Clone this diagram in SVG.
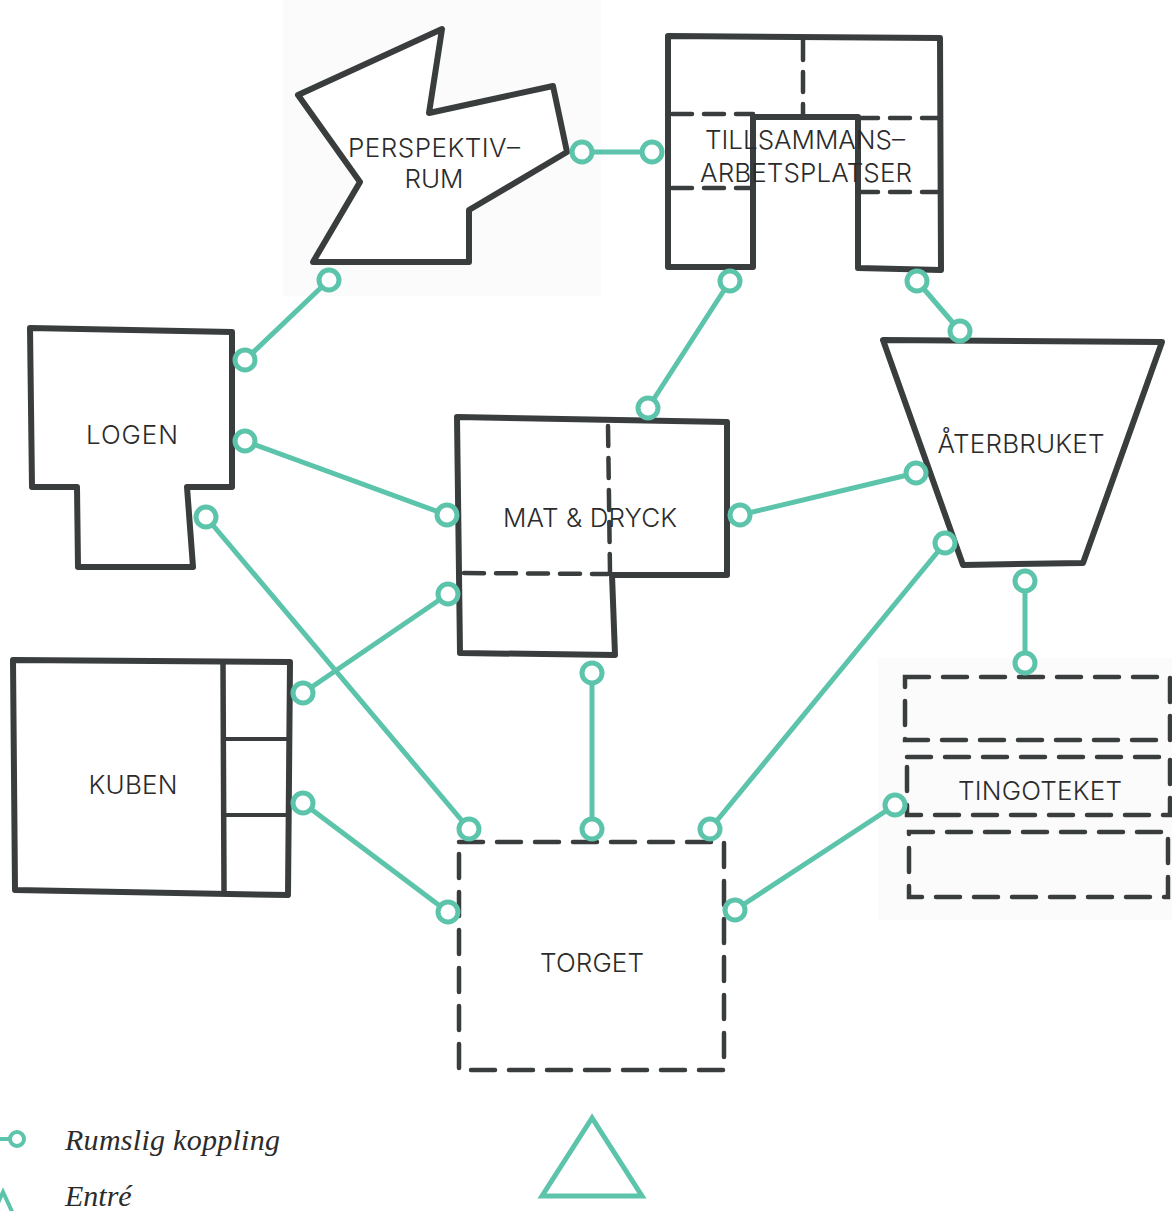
<svg xmlns="http://www.w3.org/2000/svg" width="1172" height="1211" viewBox="0 0 1172 1211">
<style>
.bg{fill:#fbfbfb;stroke:none}
.wall{fill:#ffffff;stroke:#3a3d3d;stroke-width:6;stroke-linejoin:round;stroke-linecap:round}
.wallo{fill:none;stroke:#3a3d3d;stroke-width:5.5;stroke-linecap:round}
.thin{fill:none;stroke:#3a3d3d;stroke-width:4;stroke-linecap:round}
.dash{fill:none;stroke:#3a3d3d;stroke-width:4.5;stroke-dasharray:20 12;stroke-linecap:round}
.dashbox{fill:none;stroke:#3a3d3d;stroke-width:4.5;stroke-dasharray:24 14;stroke-linecap:round}
.lbl{font-family:Inter,"Open Sans","DejaVu Sans",sans-serif;font-weight:300;font-size:26px;fill:#2b2b2b;text-anchor:middle}
.cl{stroke:#5cc4aa;stroke-width:5;fill:none;stroke-linecap:round}
.cc{stroke:#5cc4aa;stroke-width:5;fill:#ffffff}
.leg{font-family:"Liberation Serif",serif;font-style:italic;font-size:30px;fill:#2b2b2b}
</style>
<rect width="1172" height="1211" fill="#ffffff"/>
<rect class="bg" x="283" y="0" width="318" height="296"/>
<rect class="bg" x="878" y="658" width="294" height="262"/>

<g id="perspektivrum">
<polygon class="wall" points="298,95 442,29 429,113 553,86 567,152 469,210 469,262 313,262 360,182"/>
<text class="lbl" x="434" y="157" textLength="172" lengthAdjust="spacing">PERSPEKTIV–</text>
<text class="lbl" x="434" y="188">RUM</text>
</g>

<g id="tillsammans">
<path class="wall" d="M668,36 L940,38 L941,270 L858,268 L858,117 L753,117 L753,267 L668,267 Z"/>
<line class="dash" x1="803" y1="40" x2="803" y2="114"/>
<line class="dash" x1="672" y1="114" x2="753" y2="114"/>
<line class="dash" x1="858" y1="118" x2="938" y2="118"/>
<line class="dash" x1="672" y1="188" x2="753" y2="188"/>
<line class="dash" x1="858" y1="192" x2="938" y2="192"/>
<text class="lbl" x="805" y="149" textLength="200" lengthAdjust="spacing">TILLSAMMANS–</text>
<text class="lbl" x="806" y="182" textLength="212" lengthAdjust="spacing">ARBETSPLATSER</text>
</g>

<g id="logen">
<polygon class="wall" points="30,328 232,332 232,487 187,487 193,567 78,567 77,487 32,487"/>
<text class="lbl" x="132" y="444" textLength="92" lengthAdjust="spacing">LOGEN</text>
</g>

<g id="matdryck">
<polygon class="wall" points="457,417 727,422 727,575 612,575 615,655 460,653"/>
<line class="dash" x1="608" y1="426" x2="610" y2="572"/>
<line class="dash" x1="464" y1="573" x2="608" y2="574"/>
<text class="lbl" x="590" y="527" textLength="174" lengthAdjust="spacing">MAT &amp; DRYCK</text>
</g>

<g id="aterbruket">
<polygon class="wall" points="883,340 1162,342 1083,563 963,565"/>
<text class="lbl" x="1021" y="453" textLength="167" lengthAdjust="spacing">ÅTERBRUKET</text>
</g>

<g id="kuben">
<polygon class="wall" points="13,660 290,662 288,895 15,890"/>
<line class="wallo" x1="223" y1="664" x2="224" y2="890"/>
<line class="thin" x1="223" y1="739" x2="287" y2="739"/>
<line class="thin" x1="224" y1="815" x2="287" y2="815"/>
<text class="lbl" x="133" y="794" textLength="89" lengthAdjust="spacing">KUBEN</text>
</g>

<g id="tingoteket">
<rect class="dashbox" x="905" y="677" width="265" height="63"/>
<rect class="dashbox" x="907" y="757" width="263" height="58"/>
<rect class="dashbox" x="909" y="832" width="259" height="65"/>
<text class="lbl" x="1040" y="800" textLength="164" lengthAdjust="spacing">TINGOTEKET</text>
</g>

<g id="torget">
<rect class="dashbox" x="459" y="842" width="265" height="228"/>
<text class="lbl" x="592" y="972" textLength="104" lengthAdjust="spacing">TORGET</text>
</g>

<g id="connectors">
<line class="cl" x1="582" y1="152" x2="652" y2="152"/>
<line class="cl" x1="329" y1="280" x2="245" y2="360"/>
<line class="cl" x1="245" y1="441" x2="447" y2="515"/>
<line class="cl" x1="206" y1="517" x2="469" y2="829"/>
<line class="cl" x1="730" y1="281" x2="648" y2="408"/>
<line class="cl" x1="917" y1="281" x2="960" y2="331"/>
<line class="cl" x1="740" y1="515" x2="916" y2="473"/>
<line class="cl" x1="448" y1="594" x2="303" y2="693"/>
<line class="cl" x1="592" y1="673" x2="592" y2="829"/>
<line class="cl" x1="945" y1="543" x2="710" y2="829"/>
<line class="cl" x1="1025" y1="581" x2="1025" y2="663"/>
<line class="cl" x1="303" y1="803" x2="448" y2="912"/>
<line class="cl" x1="895" y1="805" x2="735" y2="910"/>
<circle class="cc" cx="582" cy="152" r="10"/>
<circle class="cc" cx="652" cy="152" r="10"/>
<circle class="cc" cx="329" cy="280" r="10"/>
<circle class="cc" cx="245" cy="360" r="10"/>
<circle class="cc" cx="245" cy="441" r="10"/>
<circle class="cc" cx="447" cy="515" r="10"/>
<circle class="cc" cx="206" cy="517" r="10"/>
<circle class="cc" cx="469" cy="829" r="10"/>
<circle class="cc" cx="730" cy="281" r="10"/>
<circle class="cc" cx="648" cy="408" r="10"/>
<circle class="cc" cx="917" cy="281" r="10"/>
<circle class="cc" cx="960" cy="331" r="10"/>
<circle class="cc" cx="740" cy="515" r="10"/>
<circle class="cc" cx="916" cy="473" r="10"/>
<circle class="cc" cx="448" cy="594" r="10"/>
<circle class="cc" cx="303" cy="693" r="10"/>
<circle class="cc" cx="592" cy="673" r="10"/>
<circle class="cc" cx="592" cy="829" r="10"/>
<circle class="cc" cx="945" cy="543" r="10"/>
<circle class="cc" cx="710" cy="829" r="10"/>
<circle class="cc" cx="1025" cy="581" r="10"/>
<circle class="cc" cx="1025" cy="663" r="10"/>
<circle class="cc" cx="303" cy="803" r="10"/>
<circle class="cc" cx="448" cy="912" r="10"/>
<circle class="cc" cx="895" cy="805" r="10"/>
<circle class="cc" cx="735" cy="910" r="10"/>
</g>

<g id="entre">
<polygon points="592,1118 542,1196 642,1196" fill="none" stroke="#5cc4aa" stroke-width="5" stroke-linejoin="miter"/>
</g>

<g id="legend">
<line class="cl" x1="-2" y1="1139" x2="9" y2="1139" style="stroke-width:4"/>
<circle class="cc" cx="17" cy="1139" r="7" style="stroke-width:4"/>
<text class="leg" x="65" y="1150" textLength="215" lengthAdjust="spacing">Rumslig koppling</text>
<polygon points="-9,1218 3,1192 15,1218" fill="none" stroke="#5cc4aa" stroke-width="4"/>
<text class="leg" x="65" y="1206">Entré</text>
</g>
</svg>
